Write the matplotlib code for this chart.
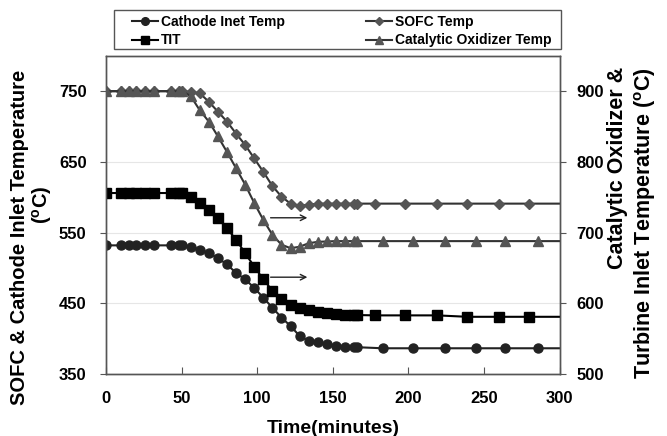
import matplotlib
matplotlib.use("Agg")
import matplotlib.pyplot as plt
from matplotlib.patches import Rectangle

plt.rcParams['font.family'] = ['Liberation Sans', 'DejaVu Sans']
plt.rcParams['font.weight'] = 'bold'
plt.rcParams['mathtext.fontset'] = 'custom'
plt.rcParams['mathtext.rm'] = 'Liberation Sans:bold'
plt.rcParams['mathtext.bf'] = 'Liberation Sans:bold'
plt.rcParams['mathtext.default'] = 'bf'

# time samples (minutes)
t_dense = [0, 10, 15, 20, 26, 32, 43, 48, 50, 56, 62, 68, 74, 80, 86, 92, 98,
           104, 110, 116, 122, 128, 134, 140, 146, 152, 158, 164, 166]
t_sparse_a = [183, 203, 224, 245, 264, 286, 300]
t_sparse_b = [178, 198, 219, 239, 260, 280, 300]

t_cathode = t_dense + t_sparse_a
t_catox = t_dense + t_sparse_a
t_tit = t_dense + t_sparse_b
t_sofc = t_dense + t_sparse_b

# left axis
cathode = [532, 532, 532, 532, 532, 532, 532, 532, 532, 530, 526, 521, 514, 505,
           493, 484, 472, 458, 444, 430, 418, 404, 397, 395, 392, 390, 389, 388.5, 388,
           386.5, 386.5, 386.5, 386.5, 386.5, 386.5, 386.5]
sofc = [750, 750, 750, 750, 750, 750, 750, 750, 750, 749, 747, 735, 721, 707,
        690, 674, 655, 636, 616, 601, 591, 588, 589.5, 591, 591, 591, 591, 591, 591,
        591, 591, 591, 591, 591, 591, 591]

# right axis
tit = [756, 756, 756, 756, 756, 756, 756, 756, 756, 750, 742, 732, 721, 706,
       690, 671, 652, 634, 618, 606, 598, 594, 591, 588, 586, 585, 584, 583.5, 583.5,
       583, 583, 583, 581, 581, 581, 581]
catox = [900, 900, 900, 900, 900, 900, 900, 900, 900, 893, 873, 857, 836, 814,
         791, 768, 742, 718, 697, 683, 678, 680, 685, 687, 687.5, 688, 688, 688, 688,
         688, 688, 688, 688, 688, 688, 688]

fig = plt.figure(figsize=(6.67, 4.36), dpi=100)
ax = fig.add_axes([0.159, 0.142, 0.680, 0.730])
ax2 = ax.twinx()

dark = '#222222'
gray = '#555555'
n_mark = len(t_dense) + 6

l1, = ax.plot(t_cathode, cathode, color=dark, lw=1.5, marker='o', ms=6.5,
              markevery=list(range(n_mark)), label='Cathode Inet Temp')
l3, = ax.plot(t_sofc, sofc, color='#333333', lw=1.5, marker='D', ms=5, mfc=gray, mec=gray,
              markevery=list(range(n_mark)), label='SOFC Temp')
l2, = ax2.plot(t_tit, tit, color='black', lw=1.5, marker='s', ms=6.5,
               markevery=list(range(n_mark)), label='TIT')
l4, = ax2.plot(t_catox, catox, color='#333333', lw=1.5, marker='^', ms=7, mfc=gray, mec=gray,
               markevery=list(range(n_mark)), label='Catalytic Oxidizer Temp')

ax.set_xlim(0, 300)
ax.set_ylim(350, 800)
ax2.set_ylim(500, 950)
ax.set_xticks([0, 50, 100, 150, 200, 250, 300])
ax.set_yticks([350, 450, 550, 650, 750])
ax2.set_yticks([500, 600, 700, 800, 900])
ax.yaxis.grid(True, color='#e6e6e6', lw=0.8)
ax.set_axisbelow(True)

for a in (ax, ax2):
    for s in a.spines.values():
        s.set_color(gray)
        s.set_linewidth(1)
ax.tick_params(axis='x', direction='in', length=5, color=gray, labelsize=12, pad=12)
ax.tick_params(axis='y', direction='out', length=4, color=gray, labelsize=12, pad=10)
ax2.tick_params(axis='y', direction='out', length=4, color=gray, labelsize=12, pad=8)

ax.set_xlabel('Time(minutes)', fontsize=14, fontweight='bold', labelpad=10)

# axis titles placed like the original
fig.text(20 / 667, 1 - 237 / 436, 'SOFC & Cathode Inlet Temperature', rotation=90,
         fontsize=14.5, fontweight='bold', ha='center', va='center')
fig.text(42 / 667, 1 - 205 / 436, '($^{o}$C)', rotation=90,
         fontsize=14.5, fontweight='bold', ha='center', va='center')
fig.text(618 / 667, 1 - 67 / 436, 'Catalytic Oxidizer &', rotation=90,
         fontsize=15.5, fontweight='bold', ha='center', va='top')
fig.text(645 / 667, 1 - 67 / 436, 'Turbine Inlet Temperature ($^{o}$C)', rotation=90,
         fontsize=15.5, fontweight='bold', ha='center', va='top')

# arrows showing the right axis curves
ax2.annotate('', xy=(135, 721), xytext=(107, 721),
             arrowprops=dict(arrowstyle='->', color=dark, lw=1))
ax2.annotate('', xy=(135, 637), xytext=(107, 637),
             arrowprops=dict(arrowstyle='->', color=dark, lw=1))

leg = fig.legend([l1, l2, l3, l4], [h.get_label() for h in (l1, l2, l3, l4)],
                 ncol=2, loc='center left',
                 bbox_to_anchor=(132 / 667, 1 - 31 / 436),
                 borderaxespad=0, frameon=False,
                 prop={'size': 10, 'weight': 'bold'}, handlelength=1.9,
                 handletextpad=0.2, labelspacing=0.35, borderpad=0, columnspacing=5.8,
                 markerscale=0.85)
fig.patches.append(Rectangle((114 / 667, 1 - 49 / 436), 447 / 667, 39 / 436,
                             transform=fig.transFigure, fill=False,
                             edgecolor=gray, lw=1))

plt.savefig('out.png', dpi=100)
